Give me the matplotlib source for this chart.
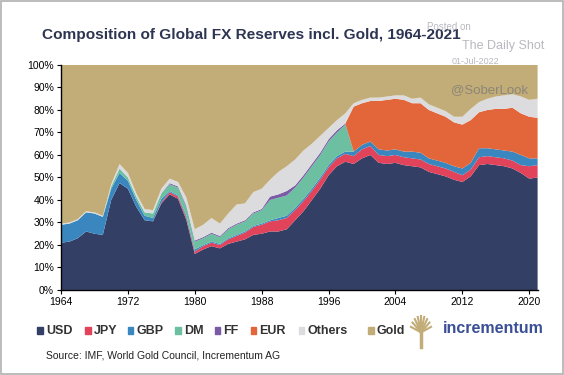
import numpy as np
import matplotlib.pyplot as plt
from matplotlib.patches import Rectangle

plt.rcParams['font.family'] = ['Liberation Sans', 'DejaVu Sans']

years = list(range(1964, 2022))

# shares of total reserves incl. gold, in %
usd = [21, 21.5, 23, 26, 25, 24.5, 40, 47.5, 45, 37, 31, 30.5, 38.5, 42.5, 40.5, 31,
       16, 18, 19.5, 18.5, 20.5, 21.5, 22.5, 24.5, 25, 26, 26, 27, 31, 35, 40, 45,
       51, 55, 57, 56, 58.5, 60, 56.5, 56, 56.5, 55.5, 55, 54.5, 52.5, 51.5, 50.5, 49,
       48, 50.5, 55.5, 56, 55.5, 55, 54, 52, 49.5, 50]
jpy = [0, 0, 0, 0, 0, 0, 0, 0, 0, 0, 0, 0, 0.5, 1, 1, 1,
       1, 1.5, 1.5, 1.5, 2, 2.5, 3, 3.5, 4, 4.5, 5, 5, 4.5, 4.5, 4, 4,
       3.5, 3.5, 3.5, 3.5, 4, 4, 3.5, 3.5, 3.5, 3.5, 3.5, 3.5, 3.5, 3.5, 3.5, 3.5,
       3, 3, 3.5, 3.5, 3.5, 3.5, 3.5, 3.5, 5.5, 5.5]
gbp = [8, 8, 8, 8.5, 9, 8, 5, 4.5, 3.5, 3, 2, 1.5, 1.5, 0.5, 0.5, 1,
       1, 0.5, 0.5, 0.5, 0.5, 0.5, 0.5, 0.5, 0.5, 0.5, 1, 1, 1, 1, 1, 1,
       1, 1, 1, 2, 2, 2, 2.5, 2.5, 2.5, 2.5, 3, 3, 2.5, 2.5, 2.5, 2.5,
       3, 3, 4, 3.5, 3.5, 3.5, 4, 4.5, 3.5, 3]
dm = [0, 0, 0, 0, 0, 0, 1, 2, 1.5, 1.5, 1.5, 2, 2.5, 3, 3.5, 4,
      3.5, 3, 3.5, 3, 4, 4.5, 4.5, 5.5, 6, 9, 9, 9, 9, 9.5, 10, 10,
      10.5, 10.5, 12, 0, 0, 0, 0, 0, 0, 0, 0, 0, 0, 0, 0, 0,
      0, 0, 0, 0, 0, 0, 0, 0, 0, 0]
ff = [0, 0, 0, 0, 0, 0, 0, 0, 0, 0, 0, 0, 0, 0.5, 0.5, 0.5,
      0.5, 0.5, 0.5, 0.5, 0.5, 0.5, 0.5, 0.5, 0.5, 1.5, 1.5, 2, 1, 1, 1, 1,
      1, 1, 0.5, 0, 0, 0, 0, 0, 0, 0, 0, 0, 0, 0, 0, 0,
      0, 0, 0, 0, 0, 0, 0, 0, 0, 0]
eur = [0, 0, 0, 0, 0, 0, 0, 0, 0, 0, 0, 0, 0, 0, 0, 0,
       0, 0, 0, 0, 0, 0, 0, 0, 0, 0, 0, 0, 0, 0, 0, 0,
       0, 0, 0, 20, 18.5, 18, 21.5, 22.5, 22.5, 23, 21.5, 22, 21.5, 21, 20.5, 19.5,
       19.5, 19, 16, 17, 18, 18.5, 19.5, 18.5, 18.5, 18]
others = [0.5, 0.5, 0.5, 0.5, 0.5, 0.5, 1, 2, 2, 1.5, 1.5, 1.5, 2, 2, 2, 3.5,
          5, 5.5, 6.5, 5.5, 6.5, 8.5, 7.5, 9, 9, 7.5, 10, 11, 11.5, 11, 9, 7.5,
          5, 4.5, 4.5, 1.5, 1.5, 1.5, 1.5, 1.5, 1.5, 2, 2, 2.5, 2.5, 2.5, 2.5, 2.5,
          3.5, 5, 4.5, 5, 5.5, 6, 6, 7.5, 7.5, 8.5]
gold = [70.5, 70, 68.5, 65, 65.5, 67, 53, 44, 48, 57, 64, 64.5, 55, 50.5, 52, 59,
        73, 71, 68, 70.5, 66, 62, 61.5, 56.5, 55, 51, 47.5, 45, 42, 38, 35, 31.5,
        28, 24.5, 21.5, 17, 15.5, 14.5, 14.5, 14, 13.5, 13.5, 15, 14.5, 17.5, 19, 20.5, 23,
        23, 19.5, 16.5, 15, 14, 13.5, 13, 14, 15.5, 15]

labels = ['USD', 'JPY', 'GBP', 'DM', 'FF', 'EUR', 'Others', 'Gold']
colors = ['#343f66', '#e0435a', '#3a87c0', '#6cbfa0', '#7b5aa6', '#e2663a', '#dcdcde', '#c2ad78']

fig = plt.figure(figsize=(5.64, 3.75), dpi=100)
ax = fig.add_axes([0.1082, 0.2267, 0.845, 0.6])

ax.stackplot(years, usd, jpy, gbp, dm, ff, eur, others, gold,
             colors=colors, linewidth=0)

ax.set_xlim(1964, 2021)
ax.set_ylim(0, 100)
ax.set_xticks(range(1964, 2021, 8))
ax.set_yticks(range(0, 101, 10))
ax.set_yticklabels([f'{v}%' for v in range(0, 101, 10)])
ax.tick_params(axis='both', labelsize=7.5, length=3, width=0.8, colors='black', pad=2)
for s in ['top', 'right']:
    ax.spines[s].set_visible(False)
for s in ['left', 'bottom']:
    ax.spines[s].set_linewidth(1)

fig.text(0.075, 0.908, 'Composition of Global FX Reserves incl. Gold, 1964-2021',
         fontsize=11.1, fontweight='bold', color='#2d3553', va='center')

# watermark
fig.text(0.757, 0.928, 'Posted on', fontsize=7, color='#b8b8c0', va='center')
fig.text(0.819, 0.878, 'The Daily Shot', fontsize=9, color='#b8b8c0', va='center')
fig.text(0.80, 0.835, '01-Jul-2022', fontsize=6.5, color='#b8b8c0', va='center')
fig.text(0.80, 0.76, '@SoberLook', fontsize=9.5, color='#8c8677', va='center')

# legend
leg_y = 1 - 330.5 / 375
sq_x = [39.6, 87.4, 130, 177.7, 217, 253, 301, 370.5]
for x, lab, c in zip(sq_x, labels, colors):
    fig.patches.append(Rectangle((x / 564 - 0.004, leg_y - 0.009), 0.0095, 0.018,
                                 transform=fig.transFigure, color=c))
    fig.text(x / 564 + 0.011, leg_y, lab, fontsize=9, fontweight='bold',
             color='#333333', va='center')

# incrementum logo
tx, ty = 421 / 564, leg_y
for ang in np.linspace(-70, 70, 9):
    r = np.deg2rad(ang)
    fig.lines.append(plt.Line2D([tx, tx + 0.019 * np.sin(r)], [ty - 0.005, ty + 0.043 * np.cos(r) - 0.005],
                                transform=fig.transFigure, color='#c2ad78', lw=1.5))
fig.lines.append(plt.Line2D([tx, tx], [ty - 0.045, ty], transform=fig.transFigure,
                            color='#c2ad78', lw=2.5))
fig.text(443 / 564, leg_y + 0.005, 'incrementum', fontsize=11.5, fontweight='bold',
         color='#3a4f96', va='center')

fig.text(46 / 564, 1 - 355 / 375, 'Source: IMF, World Gold Council, Incrementum AG',
         fontsize=7.5, color='#222222', va='center')

fig.patches.append(Rectangle((0.001, 0.002), 0.997, 0.996, transform=fig.transFigure,
                             fill=False, edgecolor='#b0b0b0', lw=1.2))

fig.savefig('out.png', dpi=100)
